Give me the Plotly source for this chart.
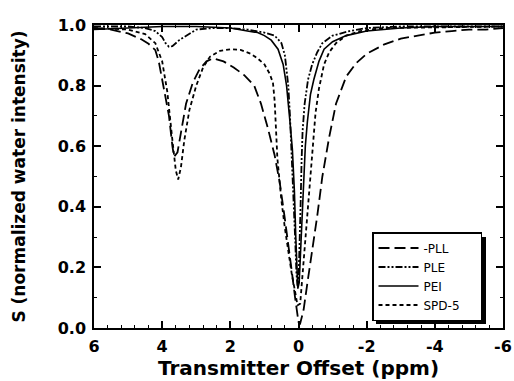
import plotly.graph_objects as go

# ---------------- data ----------------
pll_x = [6, 5.5, 5.0, 4.6, 4.4, 4.2, 4.1, 4.0, 3.9, 3.8, 3.7, 3.65, 3.55, 3.45, 3.3,
         3.1, 2.9, 2.7, 2.5, 2.2, 1.9, 1.6, 1.3, 1.1, 0.9, 0.7, 0.55, 0.4, 0.3, 0.2,
         0.1, 0.05, 0.0, -0.05, -0.15, -0.25, -0.4, -0.55, -0.7, -0.9, -1.1, -1.4,
         -1.7, -2.0, -2.5, -3.0, -3.5, -4.0, -4.5, -5.0, -5.5, -6.0]
pll_y = [0.99, 0.985, 0.972, 0.952, 0.938, 0.917, 0.88, 0.82, 0.77, 0.70, 0.60, 0.565,
         0.58, 0.65, 0.74, 0.81, 0.855, 0.88, 0.89, 0.88, 0.86, 0.835, 0.80, 0.74,
         0.66, 0.57, 0.48, 0.36, 0.28, 0.19, 0.10, 0.05, 0.02, 0.015, 0.06, 0.14,
         0.25, 0.37, 0.50, 0.63, 0.74, 0.83, 0.875, 0.905, 0.935, 0.955, 0.965,
         0.975, 0.98, 0.985, 0.985, 0.99]

ple_x = [6, 5.0, 4.5, 4.2, 4.0, 3.9, 3.8, 3.7, 3.5, 3.3, 3.0, 2.5, 2.0, 1.5, 1.0, 0.7,
         0.5, 0.4, 0.3, 0.25, 0.2, 0.15, 0.1, 0.06, 0.03, 0.0, -0.03, -0.06, -0.09,
         -0.12, -0.18, -0.28, -0.4, -0.55, -0.7, -1.0, -1.5, -2.0, -3.0, -6.0]
ple_y = [0.995, 0.995, 0.99, 0.98, 0.96, 0.94, 0.928, 0.93, 0.95, 0.965, 0.985, 0.99,
         0.99, 0.985, 0.975, 0.965, 0.94, 0.90, 0.80, 0.70, 0.58, 0.45, 0.30, 0.18,
         0.14, 0.15, 0.25, 0.40, 0.55, 0.65, 0.74, 0.82, 0.87, 0.91, 0.94, 0.965,
         0.98, 0.99, 0.995, 0.995]

pei_x = [6, 5.0, 4.0, 3.0, 2.0, 1.5, 1.2, 1.0, 0.8, 0.6, 0.45, 0.35, 0.3, 0.25, 0.18,
         0.12, 0.08, 0.05, 0.02, -0.02, -0.06, -0.1, -0.15, -0.2, -0.26, -0.35, -0.45,
         -0.6, -0.75, -1.0, -1.4, -2.0, -3.0, -4.0, -6.0]
pei_y = [0.985, 0.99, 0.995, 0.995, 0.99, 0.98, 0.975, 0.965, 0.95, 0.92, 0.87, 0.80,
         0.75, 0.68, 0.59, 0.45, 0.30, 0.18, 0.13, 0.15, 0.25, 0.38, 0.50, 0.60, 0.68,
         0.77, 0.82, 0.88, 0.92, 0.945, 0.965, 0.98, 0.99, 0.995, 0.995]

spd_x = [6, 5.0, 4.5, 4.2, 4.0, 3.85, 3.7, 3.6, 3.53, 3.45, 3.35, 3.2, 3.0, 2.8, 2.6,
         2.3, 2.0, 1.7, 1.4, 1.2, 1.0, 0.85, 0.75, 0.7, 0.62, 0.5, 0.4, 0.3, 0.2, 0.1,
         0.03, -0.05, -0.12, -0.2, -0.3, -0.4, -0.5, -0.6, -0.75, -0.9, -1.1, -1.4,
         -1.8, -2.5, -4.0, -6.0]
spd_y = [0.99, 0.985, 0.97, 0.94, 0.88, 0.78, 0.62, 0.52, 0.49, 0.53, 0.62, 0.72, 0.80,
         0.86, 0.895, 0.915, 0.92, 0.918, 0.905, 0.89, 0.87, 0.84, 0.81, 0.75, 0.56,
         0.42, 0.33, 0.25, 0.18, 0.12, 0.075, 0.08, 0.18, 0.31, 0.45, 0.59, 0.71, 0.79,
         0.87, 0.91, 0.94, 0.965, 0.98, 0.99, 0.993, 0.995]

series_names = ["-PLL", "PLE", "PEI", "SPD-5"]
x_ticks = [6, 4, 2, 0, -2, -4, -6]
y_ticks = [0.0, 0.2, 0.4, 0.6, 0.8, 1.0]

# ---------------- layout geometry ----------------
W, H = 514, 381
# target plot area on screen: x 94..503, y 25..328
L, R = 94, W - 503
T, B = 25, H - 328
pw, ph = W - L - R, H - T - B

def sx(p):   # screen px -> paper x
    return (p - L) / pw

def sy(p):   # screen px -> paper y
    return (H - B - p) / ph

styles = [
    dict(dash="11px,5px", width=1.8),
    dict(dash="7px,2px,2px,2px,2px,2px", width=1.8),
    dict(dash="solid", width=1.6),
    dict(dash="4px,3px", width=1.8),
]

fig = go.Figure()
for name, xs, ys, st in zip(series_names,
                            [pll_x, ple_x, pei_x, spd_x],
                            [pll_y, ple_y, pei_y, spd_y],
                            styles):
    fig.add_trace(go.Scatter(x=xs, y=ys, mode="lines", name=name + "\u00a0" * 4,
                             line=dict(color="black", **st), cliponaxis=True))

tickfont = dict(family="DejaVu Sans", size=16, color="black", weight="bold")
axis_common = dict(showline=True, linecolor="black", linewidth=1.5, mirror="ticks",
                   ticks="inside", ticklen=7, tickwidth=1.5, tickcolor="black",
                   showgrid=False, zeroline=False, tickfont=tickfont)

fig.update_xaxes(range=[6, -6], tickvals=x_ticks, ticktext=[str(v) for v in x_ticks],
                 ticklabelstandoff=3, automargin="bottom",
                 minor=dict(dtick=0.4, tick0=0, ticks="inside", ticklen=3,
                            tickwidth=1.2, tickcolor="black"),
                 title=dict(text="Transmitter Offset (ppm)", standoff=0,
                            font=dict(family="DejaVu Sans", size=20, color="black",
                                      weight="bold")),
                 **axis_common)
fig.update_yaxes(range=[0, 1.0], tickvals=y_ticks, ticktext=[f"{v:.1f}" for v in y_ticks],
                 ticklabelstandoff=3, automargin=False,
                 minor=dict(dtick=0.1, tick0=0, ticks="inside", ticklen=3,
                            tickwidth=1.2, tickcolor="black"),
                 title=dict(text="S (normalized water intensity)", standoff=28,
                            font=dict(family="DejaVu Sans", size=17, color="black",
                                      weight="bold")),
                 **axis_common)

# legend shadow
fig.add_shape(type="rect", xref="paper", yref="paper",
              x0=sx(376), x1=sx(486), y0=sy(324), y1=sy(237),
              fillcolor="black", line=dict(width=0), layer="above")

fig.update_layout(
    width=W, height=H,
    margin=dict(l=L, r=R, t=T, b=B),
    paper_bgcolor="white", plot_bgcolor="white",
    legend=dict(x=sx(372), y=sy(232), xanchor="left", yanchor="top",
                bgcolor="white", bordercolor="black", borderwidth=1.5,
                font=dict(family="DejaVu Sans", size=12, color="black"),
                tracegroupgap=0, itemwidth=40),
    showlegend=True,
)

fig.write_html("out.html",
               config={"displayModeBar": False},
               post_script="document.body.style.margin='0';"
                           "document.body.style.overflow='hidden';")
